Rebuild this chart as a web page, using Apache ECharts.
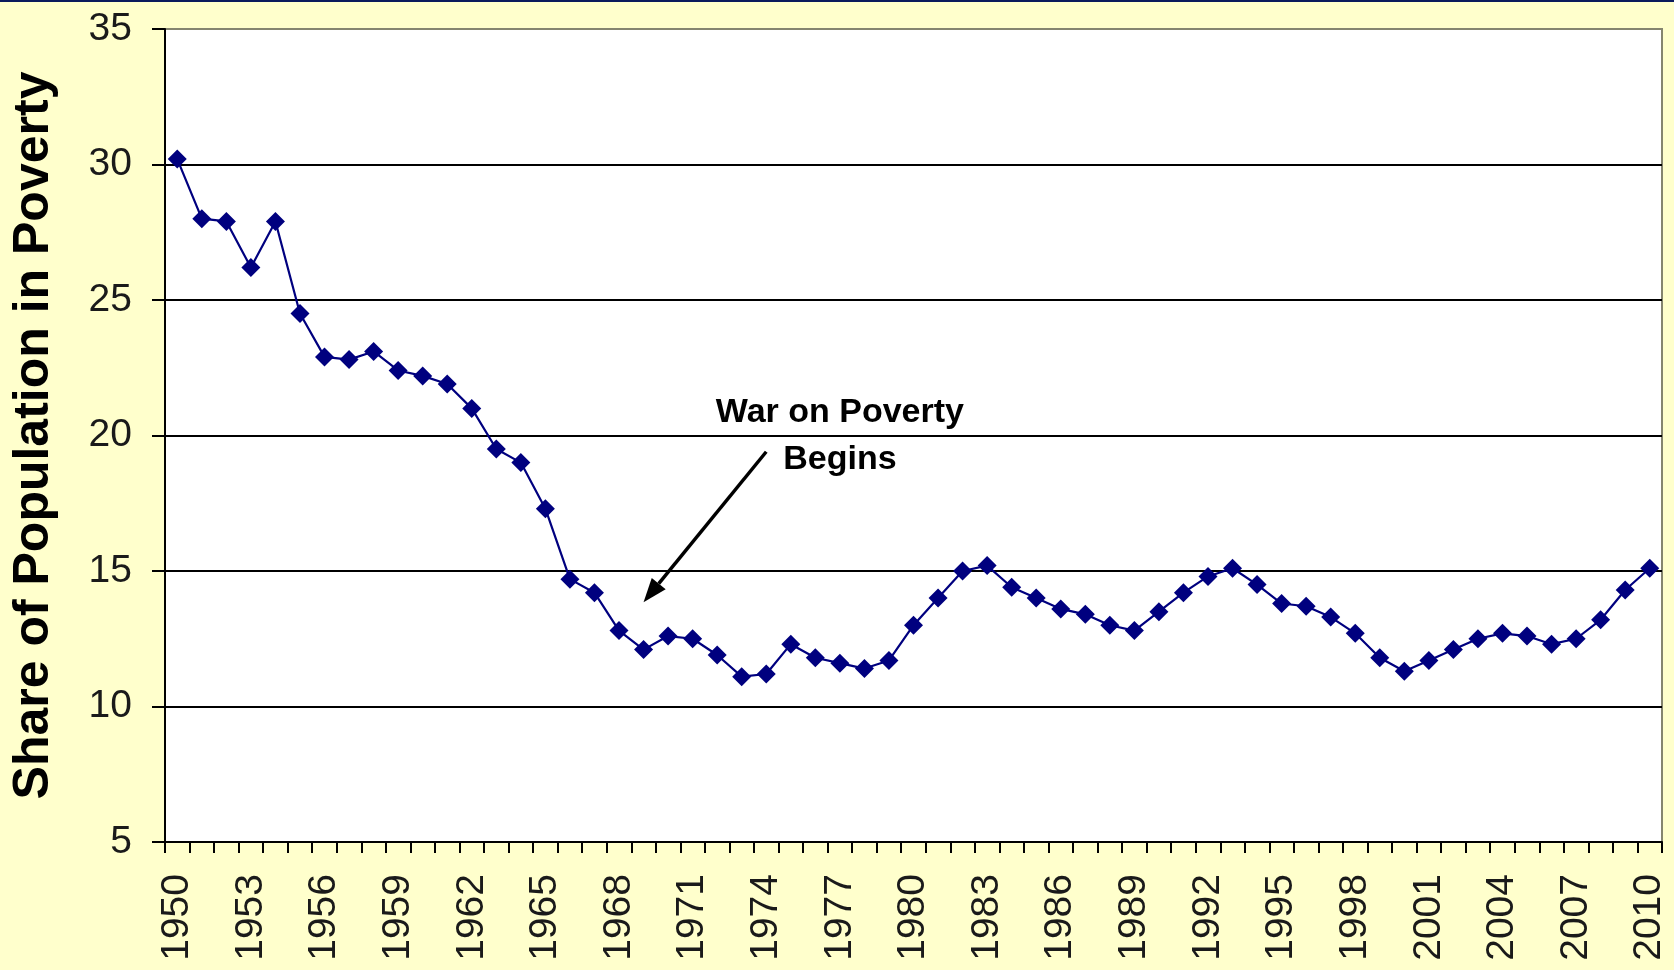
<!DOCTYPE html>
<html lang="en">
<head>
    <meta charset="UTF-8">
    <title>Share of Population in Poverty</title>
    <style>
        html, body { margin: 0; padding: 0; height: 100%; }
        body { background: #ffffcc; }
        #main { width: 1674px; height: 970px; }
    </style>
    <script src="https://cdn.jsdelivr.net/npm/echarts@6/dist/echarts.min.js"></script>
</head>
<body>
    <div id="main"></div>
    <script>
        // years on the x axis
        var years = ['1950', '1951', '1952', '1953', '1954', '1955', '1956', '1957', '1958', '1959',
            '1960', '1961', '1962', '1963', '1964', '1965', '1966', '1967', '1968', '1969',
            '1970', '1971', '1972', '1973', '1974', '1975', '1976', '1977', '1978', '1979',
            '1980', '1981', '1982', '1983', '1984', '1985', '1986', '1987', '1988', '1989',
            '1990', '1991', '1992', '1993', '1994', '1995', '1996', '1997', '1998', '1999',
            '2000', '2001', '2002', '2003', '2004', '2005', '2006', '2007', '2008', '2009', '2010'];

        // share of population in poverty (%)
        var povertyRate = [30.2, 28.0, 27.9, 26.2, 27.9, 24.5, 22.9, 22.8, 23.1, 22.4,
            22.2, 21.9, 21.0, 19.5, 19.0, 17.3, 14.7, 14.2, 12.8, 12.1,
            12.6, 12.5, 11.9, 11.1, 11.2, 12.3, 11.8, 11.6, 11.4, 11.7,
            13.0, 14.0, 15.0, 15.2, 14.4, 14.0, 13.6, 13.4, 13.0, 12.8,
            13.5, 14.2, 14.8, 15.1, 14.5, 13.8, 13.7, 13.3, 12.7, 11.8,
            11.3, 11.7, 12.1, 12.5, 12.7, 12.6, 12.3, 12.5, 13.2, 14.3, 15.1];

        // annotation text lines and arrow (anchored in data units)
        var noteLines = ['War on Poverty', 'Begins'];
        var arrowFrom = [24.4, 19.4];   // [category index, value]
        var arrowTo = [19.1, 13.85];

        var fontFamily = '"Liberation Sans", Arial, sans-serif';
        var chartDom = document.getElementById('main');
        var myChart = echarts.init(chartDom);

        var option = {
            animation: false,
            backgroundColor: '#ffffcc',
            grid: {
                left: 165,
                right: 12,
                top: 29,
                bottom: 128,
                show: true,
                backgroundColor: '#ffffff',
                borderColor: '#85856f',
                borderWidth: 2
            },
            xAxis: {
                type: 'category',
                data: years,
                boundaryGap: true,
                axisLine: { show: true, lineStyle: { color: '#000', width: 2 } },
                axisTick: {
                    show: true,
                    interval: 0,
                    alignWithLabel: false,
                    length: 11,
                    lineStyle: { color: '#000', width: 2 }
                },
                axisLabel: {
                    interval: 2,
                    rotate: 90,
                    margin: 32,
                    fontSize: 39,
                    color: '#1a1a1a',
                    fontFamily: fontFamily
                },
                splitLine: { show: false }
            },
            yAxis: {
                type: 'value',
                min: 5,
                max: 35,
                interval: 5,
                name: 'Share of Population in Poverty',
                nameLocation: 'middle',
                nameRotate: 90,
                nameGap: 106,
                nameTextStyle: {
                    fontSize: 50,
                    fontWeight: 'bold',
                    color: '#000',
                    fontFamily: fontFamily
                },
                axisLine: { show: true, lineStyle: { color: '#000', width: 2 } },
                axisTick: { show: true, length: 13, lineStyle: { color: '#000', width: 2 } },
                axisLabel: {
                    margin: 33,
                    fontSize: 39,
                    color: '#1a1a1a',
                    fontFamily: fontFamily
                },
                splitLine: {
                    lineStyle: {
                        color: ['#000', '#000', '#000', '#000', '#000', '#000', '#85856f'],
                        width: 2
                    }
                }
            },
            series: [
                {
                    name: 'Poverty',
                    type: 'line',
                    data: povertyRate,
                    symbol: 'diamond',
                    symbolSize: 19,
                    showAllSymbol: true,
                    itemStyle: { color: '#00007f' },
                    lineStyle: { color: '#00007f', width: 2.2 }
                }
            ],
            graphic: [
                {
                    type: 'rect',
                    left: 0,
                    top: 0,
                    shape: { width: 1674, height: 2 },
                    style: { fill: '#0a1a5c' }
                }
            ]
        };
        myChart.setOption(option);

        // annotation placed through the chart's own scales
        var p0 = myChart.convertToPixel({ gridIndex: 0 }, arrowFrom);
        var p1 = myChart.convertToPixel({ gridIndex: 0 }, arrowTo);
        var textX = myChart.convertToPixel({ xAxisIndex: 0 }, 27.1);
        var line1Y = myChart.convertToPixel({ yAxisIndex: 0 }, 20.85);
        var line2Y = myChart.convertToPixel({ yAxisIndex: 0 }, 19.1);

        var dx = p1[0] - p0[0], dy = p1[1] - p0[1];
        var len = Math.sqrt(dx * dx + dy * dy);
        var ux = dx / len, uy = dy / len;
        var headLen = 24, headHalf = 9;
        var bx = p1[0] - ux * headLen, by = p1[1] - uy * headLen;

        myChart.setOption({
            graphic: [
                option.graphic[0],
                {
                    type: 'line',
                    shape: { x1: p0[0], y1: p0[1], x2: bx, y2: by },
                    style: { stroke: '#000', lineWidth: 3.5 }
                },
                {
                    type: 'polygon',
                    shape: {
                        points: [
                            [p1[0], p1[1]],
                            [bx - uy * headHalf, by + ux * headHalf],
                            [bx + uy * headHalf, by - ux * headHalf]
                        ]
                    },
                    style: { fill: '#000' }
                },
                {
                    type: 'text',
                    x: textX,
                    y: line1Y,
                    style: {
                        text: noteLines[0],
                        font: 'bold 34px ' + fontFamily,
                        fill: '#000',
                        textAlign: 'center',
                        textVerticalAlign: 'middle'
                    }
                },
                {
                    type: 'text',
                    x: textX,
                    y: line2Y,
                    style: {
                        text: noteLines[1],
                        font: 'bold 34px ' + fontFamily,
                        fill: '#000',
                        textAlign: 'center',
                        textVerticalAlign: 'middle'
                    }
                }
            ]
        });
    </script>
</body>
</html>
